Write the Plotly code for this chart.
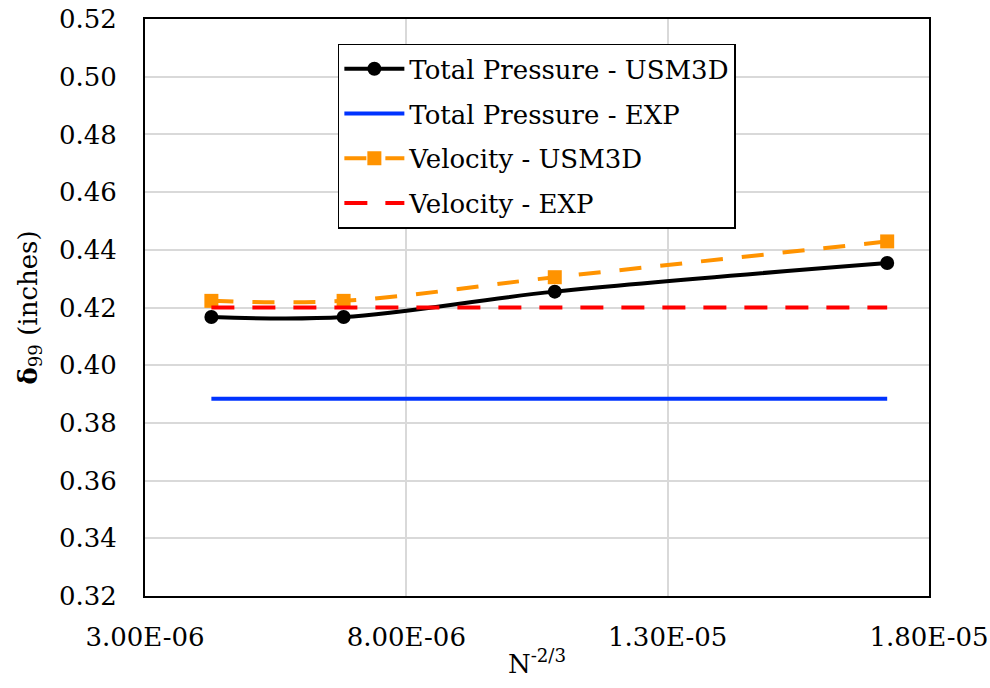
import plotly.graph_objects as go

# Grid resolution parameter N^-2/3 for the four meshes
n_param = [4.27e-6, 6.80e-6, 10.84e-6, 17.20e-6]

# Boundary-layer thickness delta_99 (inches)
tp_usm3d = [0.4167, 0.4167, 0.4255, 0.4354]
tp_exp = [0.3884, 0.3884, 0.3884, 0.3884]
vel_usm3d = [0.4223, 0.4223, 0.4305, 0.4429]
vel_exp = [0.4200, 0.4200, 0.4200, 0.4200]

x_tick_vals = [3.0e-6, 8.0e-6, 13.0e-6, 18.0e-6]
x_tick_text = ["3.00E-06", "8.00E-06", "1.30E-05", "1.80E-05"]

FONT = "DejaVu Serif"

fig = go.Figure()

fig.add_trace(go.Scatter(
    x=n_param, y=tp_usm3d, name="Total Pressure - USM3D", legendgroup="a",
    mode="lines+markers", line=dict(color="black", width=4, shape="spline"),
    marker=dict(symbol="circle", size=14, color="black"),
))
fig.add_trace(go.Scatter(
    x=n_param, y=tp_exp, name="Total Pressure - EXP", legendgroup="b",
    mode="lines", line=dict(color="#0033FF", width=4),
))
fig.add_trace(go.Scatter(
    x=n_param, y=vel_usm3d, name="Velocity - USM3D", legendgroup="c",
    mode="lines+markers",
    line=dict(color="#FF9300", width=4, dash="22px,19px", shape="spline"),
    marker=dict(symbol="square", size=14, color="#FF9300"),
))
fig.add_trace(go.Scatter(
    x=n_param, y=vel_exp, name="Velocity - EXP", legendgroup="d",
    mode="lines", line=dict(color="#FF0000", width=4, dash="23px,18px"),
))

fig.update_layout(
    width=990, height=688,
    margin=dict(l=145, r=61, t=19, b=92),
    paper_bgcolor="white", plot_bgcolor="white",
    font=dict(family=FONT, size=26, color="black"),
    showlegend=True,
    legend=dict(
        x=0.246, y=0.957, xanchor="left", yanchor="top",
        bgcolor="white", bordercolor="black", borderwidth=1.5,
        font=dict(family=FONT, size=26, color="black"),
        tracegroupgap=8, itemwidth=60,
    ),
)

fig.update_xaxes(
    range=[3.0e-6, 18.0e-6], automargin=False,
    tickvals=x_tick_vals, ticktext=x_tick_text,
    tickfont=dict(family=FONT, size=26),
    showgrid=True, gridcolor="#d9d9d9", gridwidth=1.5,
    showline=True, linecolor="black", linewidth=2, mirror=True,
    ticks="", ticklabelstandoff=17, zeroline=False,
    title=dict(text="N<sup>-2/3</sup>", standoff=4,
               font=dict(family=FONT, size=26)),
)
fig.update_yaxes(
    range=[0.32, 0.52], dtick=0.02, tickformat=".2f", automargin=False,
    tickfont=dict(family=FONT, size=26),
    showgrid=True, gridcolor="#d9d9d9", gridwidth=1.5,
    showline=True, linecolor="black", linewidth=2, mirror=True,
    ticks="", ticklabelstandoff=21, zeroline=False,
    title=dict(text="<b>δ</b><sub>99</sub> (inches)", standoff=14,
               font=dict(family=FONT, size=26)),
)

fig.write_html("out.html")
